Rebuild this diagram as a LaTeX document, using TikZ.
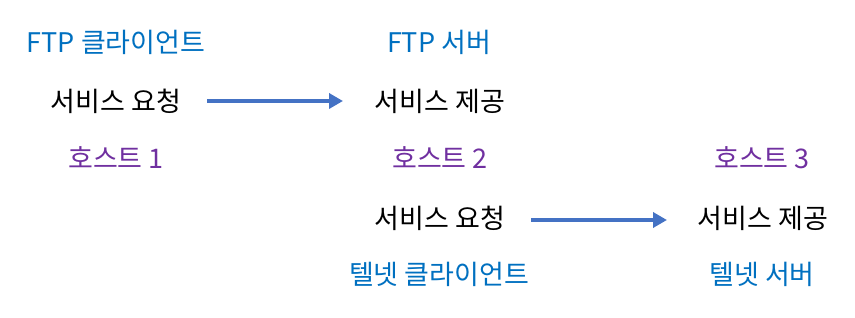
\documentclass[tikz,border=0pt]{standalone}
\usepackage{fontspec}
\setmainfont{Noto Sans CJK KR}
\usetikzlibrary{arrows.meta}
\definecolor{tblue}{HTML}{0070C0}
\definecolor{tpurple}{HTML}{7030A0}
\definecolor{ablue}{HTML}{4472C4}
\tikzset{
  lbl/.style={inner sep=0pt, font=\fontsize{27}{32}\selectfont, anchor=center},
  role/.style={lbl, text=tblue},
  host/.style={lbl, text=tpurple},
  svc/.style={lbl, text=black},
  flow/.style={draw=ablue, line width=4.5pt, -{Triangle[length=14pt,width=15pt]}}
}
\begin{document}
\begin{tikzpicture}[x=1pt,y=-1pt]
\useasboundingbox (0,0) rectangle (855,318);
\node[role] (ftpc) at (116,42) {FTP 클라이언트};
\node[svc] (req1) at (116,101) {서비스 요청};
\node[host] (h1) at (116,158) {호스트 1};
\node[role] (ftps) at (439,42) {FTP 서버};
\node[svc] (prov1) at (440,101) {서비스 제공};
\node[host] (h2) at (440,158) {호스트 2};
\node[svc] (req2) at (440,218) {서비스 요청};
\node[role] (telc) at (439,274) {텔넷 클라이언트};
\node[host] (h3) at (762,158) {호스트 3};
\node[svc] (prov2) at (763,218) {서비스 제공};
\node[role] (tels) at (762,274) {텔넷 서버};
\coordinate (a1s) at (207,101);
\coordinate (a1e) at (343,101);
\coordinate (a2s) at (531,220);
\coordinate (a2e) at (667,220);
\draw[flow] (a1s) -- (a1e);
\draw[flow] (a2s) -- (a2e);
\end{tikzpicture}
\end{document}
